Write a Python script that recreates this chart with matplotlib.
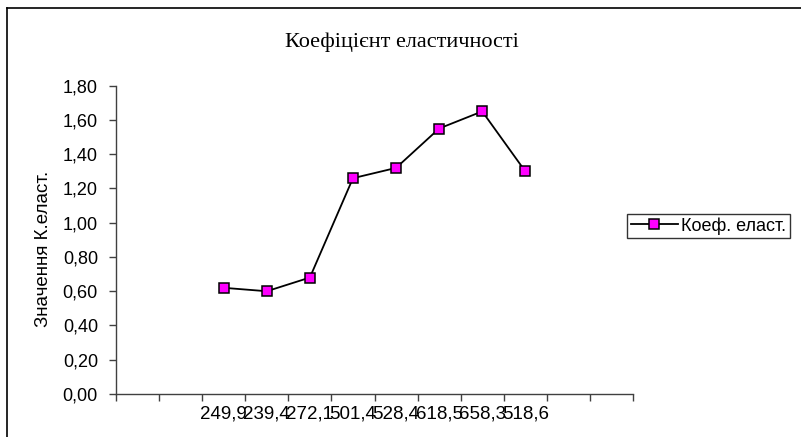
import numpy as np
import matplotlib
matplotlib.use('Agg')
import matplotlib.pyplot as plt
from matplotlib.lines import Line2D
from matplotlib.ticker import FuncFormatter, MultipleLocator

# category labels (12 slots on the axis, only 8 are filled)
categories = ['', '', '249,9', '239,4', '272,1', '501,4', '528,4',
              '618,5', '658,3', '518,6', '', '']
values = [np.nan, np.nan, 0.62, 0.60, 0.68, 1.26, 1.32,
          1.55, 1.65, 1.30, np.nan, np.nan]

W, H = 801, 437
fig = plt.figure(figsize=(W / 100, H / 100), dpi=100)
fig.patch.set_facecolor('white')

# outer chart frame (only top and left visible)
fig.add_artist(Line2D([6.5 / W, 6.5 / W], [0, 1 - 8 / H], color='black', lw=1.2,
                      transform=fig.transFigure))
fig.add_artist(Line2D([6.5 / W, 1], [1 - 8 / H, 1 - 8 / H], color='black', lw=1.2,
                      transform=fig.transFigure))

ax = fig.add_axes([116 / W, 1 - 394 / H, (633 - 116) / W, (394 - 85.7) / H])
n = len(categories)
xc = np.arange(n) + 0.5
ax.plot(xc, values, color='black', lw=1.3, marker='s', markersize=7,
        markerfacecolor='#FF00FF', markeredgecolor='black', markeredgewidth=1.1,
        label='Коеф. еласт.')

ax.set_xlim(0, n)
ax.set_ylim(0, 1.8)
ax.yaxis.set_major_locator(MultipleLocator(0.2))
ax.yaxis.set_major_formatter(FuncFormatter(lambda v, p: f'{v:.2f}'.replace('.', ',')))

ax.set_xticks(np.arange(n + 1))
ax.set_xticklabels([])
ax.set_xticks(xc, minor=True)
ax.set_xticklabels(categories, minor=True, fontsize=13.5, family='Liberation Sans')
ax.tick_params(axis='x', which='minor', length=0, pad=8)
ax.tick_params(axis='x', which='major', length=5, width=1, color='#404040')
ax.tick_params(axis='y', length=5, width=1, color='#404040', pad=8, labelsize=13)
for lab in ax.get_yticklabels():
    lab.set_family('Liberation Sans')

for s in ['top', 'right']:
    ax.spines[s].set_visible(False)
for s in ['left', 'bottom']:
    ax.spines[s].set_color('#404040')
    ax.spines[s].set_linewidth(1)

fig.text(44 / W, 1 - 249 / H, 'Значення К.еласт.', rotation=90, ha='center',
         va='center', fontsize=13.5, family='Liberation Sans')
fig.text(402 / W, 1 - 42 / H, 'Коефіцієнт еластичності', ha='center', va='center',
         fontsize=16, family='Liberation Serif')

leg = fig.legend(loc='center left', bbox_to_anchor=(627 / W, 1 - 226 / H),
                 prop={'family': 'Liberation Sans', 'size': 13},
                 frameon=True, fancybox=False, shadow=False, handlelength=2.6,
                 handletextpad=0.2, borderpad=0.2, borderaxespad=0)
leg.get_frame().set_edgecolor('black')
leg.get_frame().set_linewidth(1)

fig.savefig('out.png', dpi=100)
